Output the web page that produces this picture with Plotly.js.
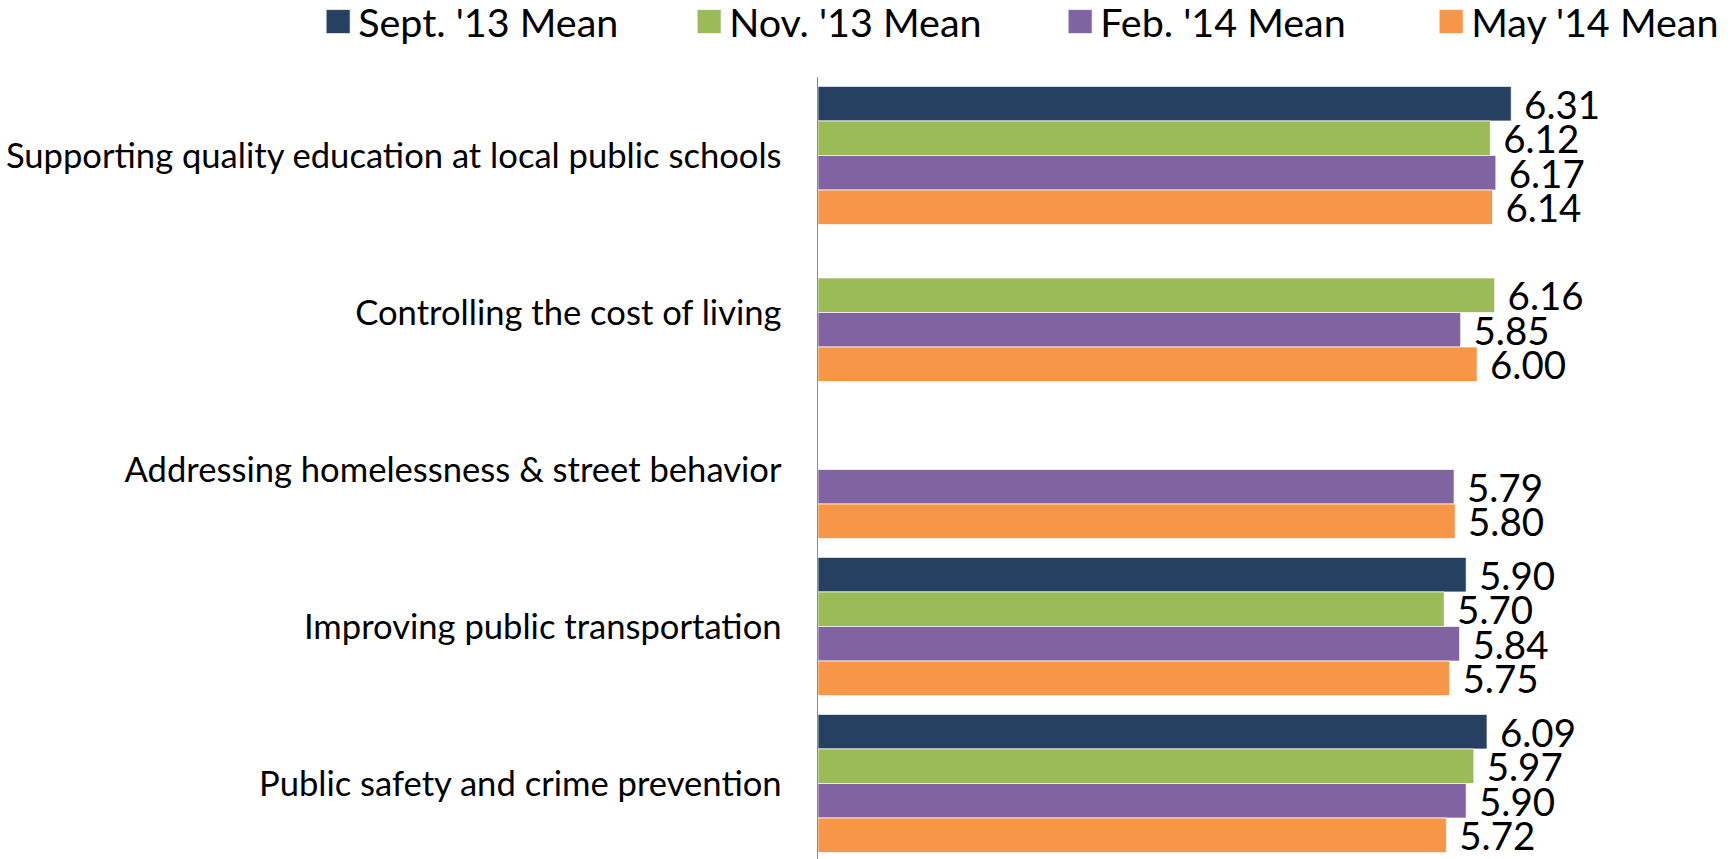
<!DOCTYPE html>
<html>
<head>
<meta charset="utf-8">
<script src="https://cdn.plot.ly/plotly-3.0.1.min.js"></script>
<style>html,body{margin:0;padding:0;background:#fff;}#chart{width:1731px;height:859px;}</style>
</head>
<body>
<div id="chart"></div>
<script>
const categories = [
  "Supporting quality education at local public schools",
  "Controlling the cost of living",
  "Addressing homelessness & street behavior",
  "Improving public transportation",
  "Public safety and crime prevention"
];
const seriesNames = ["Sept. '13 Mean", "Nov. '13 Mean", "Feb. '14 Mean", "May '14 Mean"];
const sept13 = [6.31, null, null, 5.90, 6.09];
const nov13  = [6.12, 6.16, null, 5.70, 5.97];
const feb14  = [6.17, 5.85, 5.79, 5.84, 5.90];
const may14  = [6.14, 6.00, 5.80, 5.75, 5.72];
const seriesValues = [sept13, nov13, feb14, may14];
const colors = ["#264061", "#9BBB59", "#8064A2", "#F79646"];

const traces = seriesValues.map((vals, i) => ({
  type: 'bar',
  orientation: 'h',
  name: seriesNames[i],
  y: categories,
  x: vals,
  marker: {color: colors[i], line: {color: 'rgba(255,255,255,0.7)', width: 1}},
  texttemplate: '\u00a0%{x:.2f}',
  textposition: 'outside',
  constraintext: 'none',
  cliponaxis: false,
  textfont: {family: 'Lato', size: 38.5, color: '#000'},
  hoverinfo: 'x+name'
}));

const layout = {
  width: 1731, height: 859, autosize: false,
  margin: {l: 818, r: 144, t: 77, b: 0, pad: 0, autoexpand: false},
  paper_bgcolor: '#fff', plot_bgcolor: '#fff',
  font: {family: 'Lato', color: '#000'},
  barmode: 'group', bargap: 0.12, bargroupgap: 0,
  showlegend: true,
  legend: {
    orientation: 'h', x: -0.65, xanchor: 'left', y: 1.112, yanchor: 'top',
    font: {family: 'Lato', size: 39.5, color: '#000'},
    entrywidth: 326, entrywidthmode: 'pixels', traceorder: 'normal',
    bgcolor: 'rgba(0,0,0,0)', borderwidth: 0
  },
  xaxis: {range: [0, 7], showgrid: false, zeroline: false, showticklabels: false, showline: false, fixedrange: true},
  yaxis: {
    type: 'category', autorange: false, range: [4.481, -0.5],
    showline: true, linecolor: '#8c8c8c', linewidth: 1.5,
    ticks: '', showgrid: false, zeroline: false,
    ticklabelstandoff: 28,
    tickfont: {family: 'Lato', size: 34.6, color: '#000'},
    fixedrange: true
  }
};

function bigSwatches() {
  document.querySelectorAll('.legend .legendpoints path').forEach(p => p.setAttribute('d', 'M12,12H-12V-12H12Z'));
}
Plotly.newPlot('chart', traces, layout, {displayModeBar: false, staticPlot: true}).then(() => {
  bigSwatches();
  setTimeout(bigSwatches, 50);
});
</script>
</body>
</html>
